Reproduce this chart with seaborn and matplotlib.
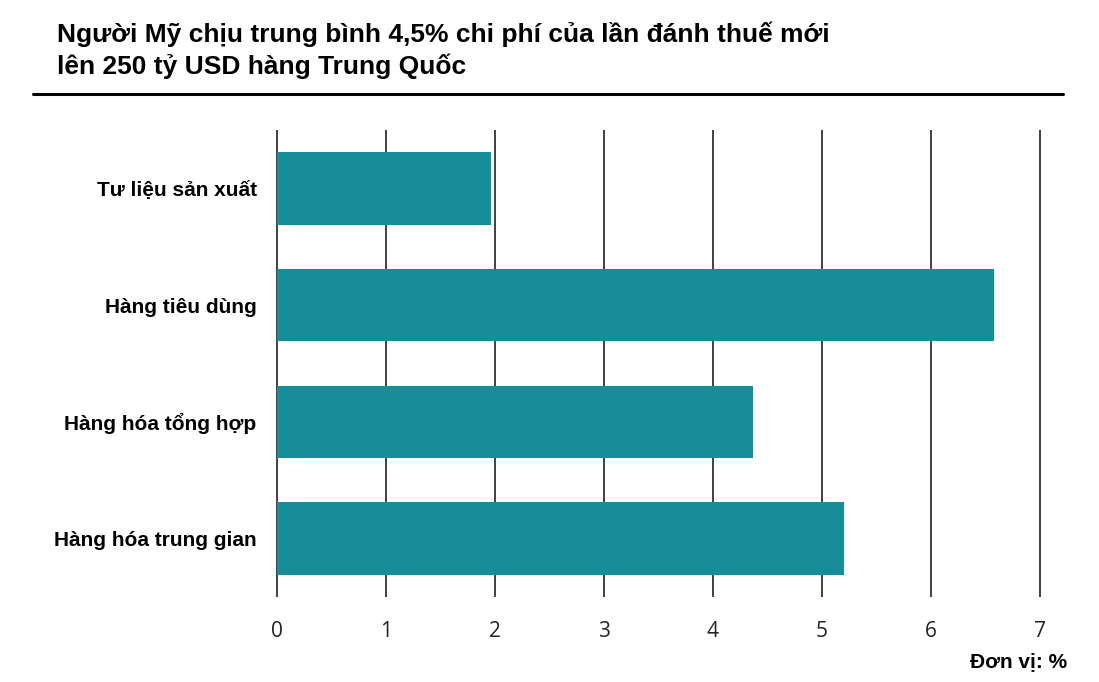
import matplotlib
matplotlib.use("Agg")
import matplotlib.pyplot as plt
from matplotlib.lines import Line2D
import pandas as pd
import seaborn as sns

# -----------------------------
# Data
# -----------------------------
categories = ["Tư liệu sản xuất", "Hàng tiêu dùng", "Hàng hóa tổng hợp", "Hàng hóa trung gian"]
values = [1.96, 6.58, 4.37, 5.20]
x_ticks = [0, 1, 2, 3, 4, 5, 6, 7]

title = "Người Mỹ chịu trung bình 4,5% chi phí của lần đánh thuế mới\nlên 250 tỷ USD hàng Trung Quốc"
unit_note = "Đơn vị: %"

df = pd.DataFrame({"category": categories, "value": values})

# -----------------------------
# Plot
# -----------------------------
sns.set_style("white")
plt.rcParams["font.family"] = ["Liberation Sans", "DejaVu Sans"]
plt.rcParams["text.color"] = "black"

fig = plt.figure(figsize=(10.99, 6.82), dpi=100)
ax = fig.add_axes([0.2500, 0.1246, 0.6983, 0.6848])

sns.barplot(data=df, x="value", y="category", orient="h", color="#168D99",
            saturation=1, width=0.62, linewidth=0, ax=ax)

ax.set_xlim(-0.02, 7.02)
ax.set_xticks(x_ticks)
ax.set_axisbelow(True)
ax.grid(axis="x", color="#333333", linewidth=1.3)
ax.grid(axis="y", visible=False)
for s in ax.spines.values():
    s.set_visible(False)

ax.set_xlabel("")
ax.set_ylabel("")
ax.tick_params(axis="x", length=0, pad=17)
ax.tick_params(axis="y", length=0, pad=13)
for lbl in ax.get_xticklabels():
    lbl.set_fontfamily(["Open Sans", "DejaVu Sans"])
    lbl.set_fontsize(15)
    lbl.set_color("#222222")
for lbl in ax.get_yticklabels():
    lbl.set_fontweight("bold")
    lbl.set_fontsize(15)
    lbl.set_color("black")

# title and rule
fig.text(57 / 1099, 1 - 22 / 682, title, ha="left", va="top",
         fontsize=19, fontweight="bold", linespacing=1.32, color="black")
fig.add_artist(Line2D([33 / 1099, 1063 / 1099], [1 - 94 / 682, 1 - 94 / 682],
                      color="black", linewidth=2.2, transform=fig.transFigure))

fig.text(1067 / 1099, 1 - 662 / 682, unit_note, ha="right", va="center",
         fontsize=15, fontweight="bold", color="black")

fig.savefig("out.png", dpi=100)
